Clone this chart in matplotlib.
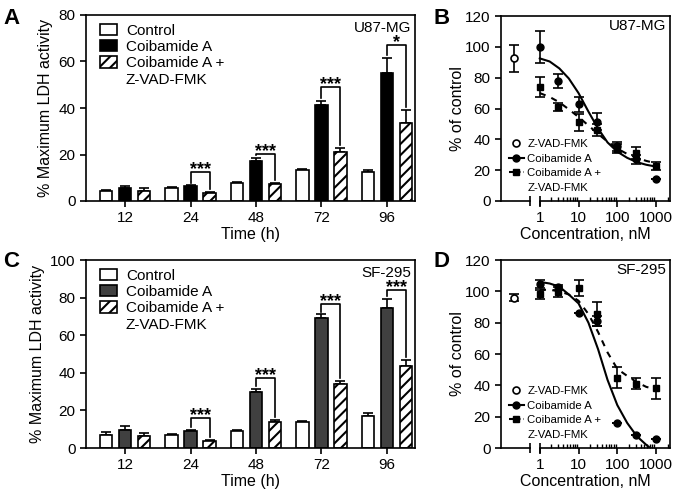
import numpy as np
import matplotlib
matplotlib.use('Agg')
from matplotlib import pyplot as plt
from matplotlib.patches import Rectangle
from matplotlib.lines import Line2D
from matplotlib.ticker import FixedLocator, NullFormatter

plt.rcParams['font.family'] = ['Liberation Sans', 'DejaVu Sans']
plt.rcParams['hatch.linewidth'] = 1.5
plt.rcParams['axes.linewidth'] = 1.2

# ---- bar panels (LDH release) ----
times = ['12', '24', '48', '72', '96']

# A: U87-MG
u87_ctrl = [4.4, 5.7, 7.6, 13.3, 12.3]
u87_ctrl_err = [0.4, 0.4, 0.5, 0.6, 1.2]
u87_coib = [5.8, 6.3, 17.2, 41.1, 54.9]
u87_coib_err = [0.7, 0.4, 1.3, 2.0, 6.7]
u87_zvad = [4.3, 3.6, 7.3, 21.2, 33.7]
u87_zvad_err = [1.2, 0.4, 0.4, 1.7, 5.4]
u87_sig = ['', '***', '***', '***', '*']
u87_bracket = [None, 12.6, 20.2, 48.9, 67.1]

# C: SF-295
sf_ctrl = [7.1, 6.8, 8.9, 13.9, 17.1]
sf_ctrl_err = [1.4, 0.5, 0.8, 0.4, 1.4]
sf_coib = [9.8, 8.9, 30.0, 69.3, 74.3]
sf_coib_err = [1.8, 0.6, 1.3, 1.8, 4.8]
sf_zvad = [6.4, 3.9, 13.6, 34.3, 43.4]
sf_zvad_err = [1.8, 0.5, 1.4, 1.6, 3.6]
sf_sig = ['', '***', '***', '***', '***']
sf_bracket = [None, 15.7, 37.0, 76.6, 84.0]

# ---- dose response panels ----
conc = [1, 3, 10, 30, 100, 300, 1000]

# B: U87-MG
u87_zvad_only = 92.5
u87_zvad_only_err = 8.5
u87_coib_pts = [100.0, 78.0, 62.7, 51.5, 35.5, 27.0, 14.0]
u87_coib_pts_err = [10.5, 4.5, 5.0, 5.5, 3.0, 3.0, 0.0]
u87_combo_pts = [74.0, 61.2, 51.0, 46.0, 34.0, 31.0, 22.7]
u87_combo_pts_err = [6.7, 2.6, 5.5, 4.0, 3.0, 4.0, 2.5]

# D: SF-295
sf_zvad_only = 96.0
sf_zvad_only_err = 2.0
sf_coib_pts = [104.5, 102.5, 86.0, 81.0, 16.0, 8.5, 6.0]
sf_coib_pts_err = [2.5, 1.5, 0.0, 3.0, 0.0, 0.0, 0.0]
sf_combo_pts = [98.0, 99.5, 102.0, 85.5, 45.0, 41.0, 38.0]
sf_combo_pts_err = [3.0, 3.0, 5.0, 7.5, 7.0, 3.5, 6.5]

# fitted curves
curve_conc = [1, 1.8, 3.2, 5.6, 10, 18, 32, 56, 100, 180, 320, 560, 1000]
u87_coib_fit = [92.5, 90.5, 86.0, 79.5, 70.0, 58.0, 47.0, 38.0, 32.0, 28.0, 25.2, 23.5, 22.3]
u87_combo_fit = [70.0, 67.5, 64.0, 59.5, 54.5, 49.0, 43.5, 38.5, 34.0, 30.5, 28.0, 26.0, 24.5]
sf_coib_fit = [106.0, 105.0, 103.0, 98.0, 92.3, 80.0, 63.0, 43.5, 27.4, 16.0, 7.5, 2.0, -3.0]
sf_combo_fit = [101.0, 101.0, 100.0, 98.0, 94.0, 85.5, 74.0, 61.0, 50.5, 46.0, 42.0, 39.0, 37.5]

ZVAD_POS = 0.214   # where the Z-VAD-FMK control sits on the broken axis


def bar_panel(ax, ctrl, ctrl_err, coib, coib_err, zvad, zvad_err, sig, brackets, ymax, coib_color, cell):
    x = np.arange(len(times))
    off, w = 0.29, 0.19
    kw = dict(width=w, edgecolor='black', linewidth=1.2, zorder=2)
    ax.bar(x - off, ctrl, color='white', label='Control', **kw)
    ax.bar(x, coib, color=coib_color, label='Coibamide A', **kw)
    ax.bar(x + off, zvad, color='white', hatch='///', label='Coibamide A +', **kw)
    ekw = dict(fmt='none', ecolor='black', elinewidth=1.2, capsize=3.5, capthick=1.2, zorder=1)
    for dx, v, e in [(-off, ctrl, ctrl_err), (0, coib, coib_err), (off, zvad, zvad_err)]:
        ax.errorbar(x + dx, v, yerr=[np.zeros(len(v)), e], **ekw)

    gap = ymax * 0.015
    for i, s in enumerate(sig):
        if not s:
            continue
        top = brackets[i]
        ax.plot([x[i], x[i], x[i] + off, x[i] + off],
                [coib[i] + coib_err[i] + gap, top, top, zvad[i] + zvad_err[i] + gap],
                color='black', lw=1.2)
        ax.annotate(s, (x[i] + off / 2, top), xytext=(0, -1.5), textcoords='offset points',
                    ha='center', va='baseline', fontsize=13, fontweight='bold')

    ax.set_xlim(-0.6, 4.43)
    ax.set_ylim(0, ymax)
    ax.set_yticks(np.arange(0, ymax + 1, 20))
    ax.set_xticks(x)
    ax.set_xticklabels(times)
    ax.tick_params(labelsize=11, width=1.2, length=4)
    ax.set_xlabel('Time (h)', fontsize=11.5, labelpad=1)
    ax.set_ylabel('% Maximum LDH activity', fontsize=11.5, labelpad=4)
    ax.text(0.99, 0.93, cell, transform=ax.transAxes, ha='right', va='center', fontsize=11)

    handles, labels = ax.get_legend_handles_labels()
    handles.append(Rectangle((0, 0), 1, 1, fill=False, edgecolor='none'))
    labels.append('Z-VAD-FMK')
    ax.legend(handles, labels, loc='upper left', bbox_to_anchor=(0.01, 1.01), frameon=False,
              fontsize=11, handlelength=1.1, handleheight=0.75, handletextpad=0.6,
              labelspacing=0.15, borderaxespad=0.3)


def dose_panel(ax, zv, zv_err, coib, coib_err, combo, combo_err, coib_fit, combo_fit, cell):
    ax.set_xscale('log')
    ax.plot(curve_conc, coib_fit, color='black', lw=1.5, zorder=2)
    ax.plot(curve_conc, combo_fit, color='black', lw=1.5, ls=(0, (3, 3)), zorder=2)
    ekw = dict(ecolor='black', elinewidth=1.2, capsize=3.5, capthick=1.2, ls='none', zorder=3)
    ax.errorbar([ZVAD_POS], [zv], yerr=[zv_err], fmt='o', ms=5, mfc='white', mec='black', mew=1.2, **ekw)
    ax.errorbar(conc, coib, yerr=coib_err, fmt='o', ms=5, color='black', **ekw)
    ax.errorbar(conc, combo, yerr=combo_err, fmt='s', ms=5, color='black', **ekw)

    ax.set_xlim(0.1, 2290)
    ax.set_ylim(0, 120)
    ax.set_yticks(np.arange(0, 121, 20))
    ax.spines['bottom'].set_bounds(1, 2290)
    ax.plot([0.1, 0.55], [0, 0], transform=ax.get_xaxis_transform(), color='black', lw=1.2, clip_on=False)
    ax.plot([0.55, 1], [0, 0], transform=ax.get_xaxis_transform(), ls='none', marker='|', ms=7, mew=1.2,
            color='black', clip_on=False)
    ax.xaxis.set_major_locator(FixedLocator([1, 10, 100, 1000]))
    ax.set_xticklabels(['1', '10', '100', '1000'])
    minors = [k * 10 ** d for d in range(4) for k in range(2, 10) if k * 10 ** d < 2290]
    ax.xaxis.set_minor_locator(FixedLocator(minors))
    ax.xaxis.set_minor_formatter(NullFormatter())
    ax.tick_params(labelsize=11, width=1.2, length=4)
    ax.tick_params(axis='x', which='minor', direction='in', length=3, width=1.0)
    ax.set_xlabel('Concentration, nM', fontsize=11.5, labelpad=1)
    ax.set_ylabel('% of control', fontsize=11.5, labelpad=0)
    ax.text(0.98, 0.945, cell, transform=ax.transAxes, ha='right', va='center', fontsize=11)

    handles = [
        Line2D([], [], ls='none', marker='o', ms=5, mfc='white', mec='black', mew=1.2),
        Line2D([], [], color='black', lw=1.5, marker='o', ms=5),
        Line2D([], [], color='black', lw=1.5, ls=(0, (2, 1.5)), marker='s', ms=5),
        Line2D([], [], ls='none'),
    ]
    labels = ['Z-VAD-FMK', 'Coibamide A', 'Coibamide A +', 'Z-VAD-FMK']
    ax.legend(handles, labels, loc='lower left', bbox_to_anchor=(0.0, 0.0), frameon=False,
              fontsize=8.2, handlelength=1.3, handletextpad=0.3, labelspacing=0.4, borderaxespad=0.3)


fig = plt.figure(figsize=(6.76, 4.91), dpi=100)
ax_a = fig.add_axes([86 / 676, 1 - 201 / 491, 329 / 676, 186 / 491])
ax_b = fig.add_axes([501 / 676, 1 - 201 / 491, 169 / 676, 185 / 491])
ax_c = fig.add_axes([86 / 676, 1 - 448 / 491, 329 / 676, 188 / 491])
ax_d = fig.add_axes([501 / 676, 1 - 448 / 491, 169 / 676, 188 / 491])

bar_panel(ax_a, u87_ctrl, u87_ctrl_err, u87_coib, u87_coib_err, u87_zvad, u87_zvad_err,
          u87_sig, u87_bracket, 80, 'black', 'U87-MG')
bar_panel(ax_c, sf_ctrl, sf_ctrl_err, sf_coib, sf_coib_err, sf_zvad, sf_zvad_err,
          sf_sig, sf_bracket, 100, '#404040', 'SF-295')
dose_panel(ax_b, u87_zvad_only, u87_zvad_only_err, u87_coib_pts, u87_coib_pts_err,
           u87_combo_pts, u87_combo_pts_err, u87_coib_fit, u87_combo_fit, 'U87-MG')
dose_panel(ax_d, sf_zvad_only, sf_zvad_only_err, sf_coib_pts, sf_coib_pts_err,
           sf_combo_pts, sf_combo_pts_err, sf_coib_fit, sf_combo_fit, 'SF-295')

for letter, x, y in [('A', 3, 8), ('B', 434, 8), ('C', 3, 251), ('D', 434, 251)]:
    fig.text(x / 676, 1 - y / 491, letter, fontsize=16, fontweight='bold', ha='left', va='top')

plt.savefig('out.png', dpi=100)
